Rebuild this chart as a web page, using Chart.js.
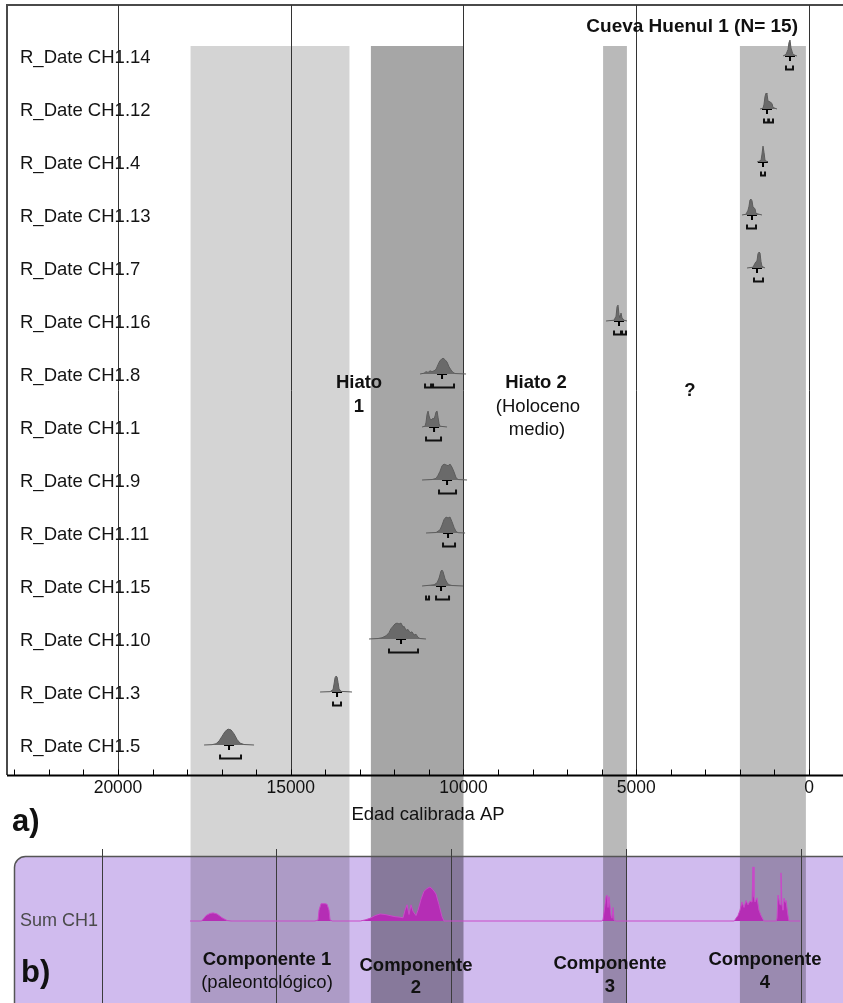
<!DOCTYPE html>
<html>
<head>
<meta charset="utf-8">
<script src="https://cdn.jsdelivr.net/npm/chart.js@4.4.0/dist/chart.umd.min.js"></script>
<style>
  html, body { margin: 0; padding: 0; background: #fff; }
  #wrap { width: 843px; height: 1003px; position: relative; }
</style>
</head>
<body>
<div id="wrap"><canvas id="oxcal"></canvas></div>
<script>
// ---- data (years cal BP, relative probability) ----
var dates = ['R_Date CH1.14', 'R_Date CH1.12', 'R_Date CH1.4', 'R_Date CH1.13', 'R_Date CH1.7',
  'R_Date CH1.16', 'R_Date CH1.8', 'R_Date CH1.1', 'R_Date CH1.9', 'R_Date CH1.11',
  'R_Date CH1.15', 'R_Date CH1.10', 'R_Date CH1.3', 'R_Date CH1.5'];

var distCH1_14 = [[752,0],[666,0.1],[608,0.4],[579,0.85],[550,1],[521,0.5],[492,0.3],[463,0.1],[347,0]];
var distCH1_12 = [[1418,0],[1331,0.05],[1302,0.3],[1273,0.8],[1244,1],[1216,0.95],[1187,0.5],[1129,0.45],[1071,0.35],[1042,0.1],[926,0]];
var distCH1_4  = [[1505,0],[1389,0.1],[1360,0.5],[1331,1],[1302,0.6],[1273,0.1],[1187,0]];
var distCH1_13 = [[1939,0],[1823,0.05],[1766,0.3],[1737,0.55],[1708,0.95],[1679,1],[1650,0.9],[1621,0.5],[1563,0.4],[1534,0.1],[1360,0]];
var distCH1_7  = [[1794,0],[1621,0.05],[1563,0.3],[1534,0.4],[1505,0.45],[1476,0.9],[1447,1],[1418,0.95],[1389,0.4],[1360,0.1],[1273,0]];
var distCH1_16 = [[5875,0],[5643,0.05],[5585,0.3],[5556,0.9],[5528,1],[5499,0.4],[5470,0.2],[5441,0.5],[5412,0.2],[5354,0.05],[5267,0]];
var distCH1_8  = [[11258,0],[11142,0.05],[11084,0.15],[11026,0.1],[10968,0.2],[10910,0.15],[10852,0.2],[10794,0.3],[10736,0.6],[10679,0.85],[10621,0.95],[10592,1],[10534,0.9],[10476,0.75],[10418,0.45],[10360,0.25],[10302,0.1],[10245,0.03],[9926,0]];
var distCH1_1  = [[11200,0],[11113,0.05],[11084,0.3],[11055,0.8],[11026,1],[10997,0.7],[10968,0.5],[10939,0.45],[10910,0.5],[10881,0.55],[10852,0.5],[10823,0.7],[10794,0.95],[10765,1],[10736,0.6],[10707,0.2],[10679,0.05],[10476,0]];
var distCH1_9  = [[11200,0],[10910,0.03],[10794,0.1],[10736,0.3],[10679,0.55],[10621,0.9],[10563,1],[10505,0.95],[10447,0.9],[10389,1],[10331,0.8],[10273,0.5],[10216,0.15],[10158,0.03],[9897,0]];
var distCH1_11 = [[11084,0],[10794,0.03],[10679,0.2],[10621,0.5],[10563,0.85],[10505,1],[10447,0.95],[10389,1],[10331,0.7],[10273,0.35],[10216,0.1],[10158,0.02],[9955,0]];
var distCH1_15 = [[11200,0],[10968,0.05],[10852,0.08],[10765,0.2],[10707,0.5],[10650,0.95],[10621,1],[10592,0.9],[10534,0.45],[10476,0.2],[10418,0.08],[10331,0.03],[10013,0]];
var distCH1_10 = [[12734,0],[12474,0.03],[12358,0.08],[12242,0.2],[12156,0.4],[12098,0.65],[12040,0.8],[11982,0.95],[11924,1],[11866,0.95],[11808,1],[11750,0.75],[11721,0.8],[11663,0.55],[11605,0.6],[11548,0.4],[11490,0.45],[11432,0.25],[11374,0.3],[11316,0.1],[11258,0.03],[11084,0]];
var distCH1_3  = [[14151,0],[13862,0.02],[13776,0.15],[13747,0.5],[13718,0.9],[13689,1],[13660,0.95],[13631,0.6],[13602,0.2],[13545,0.04],[13226,0]];
var distCH1_5  = [[17509,0],[17278,0.02],[17162,0.08],[17075,0.25],[16988,0.55],[16901,0.85],[16815,1],[16728,0.95],[16641,0.7],[16554,0.35],[16467,0.12],[16352,0.03],[16062,0]];

var dists = [distCH1_14, distCH1_12, distCH1_4, distCH1_13, distCH1_7, distCH1_16, distCH1_8,
  distCH1_1, distCH1_9, distCH1_11, distCH1_15, distCH1_10, distCH1_3, distCH1_5];

var medians = [550, 1216, 1331, 1650, 1505, 5499, 10621, 10852, 10476, 10447, 10650, 11808, 13660, 16786];

var ranges = [
  [[666, 463]],
  [[1302, 1180], [1160, 1042]],
  [[1389, 1273]],
  [[1794, 1534]],
  [[1592, 1331]],
  [[5643, 5441], [5412, 5296]],
  [[11113, 10939], [10881, 10274]],
  [[11084, 10650]],
  [[10708, 10216]],
  [[10592, 10245]],
  [[11084, 10997], [10794, 10418]],
  [[12156, 11316]],
  [[13776, 13545]],
  [[17046, 16439]]
];

// Sum CH1 (panel b)
var sumCH1 = [[17473,0],[17150,0],[17100,0.03],[17014,0.1],[16900,0.14],[16814,0.15],[16700,0.13],[16557,0.06],[16414,0.01],[16300,0],
  [13900,0],[13810,0.02],[13782,0.2],[13724,0.32],[13610,0.32],[13553,0.31],[13496,0.2],[13467,0.02],[13400,0],
  [12600,0],[12465,0.02],[12322,0.05],[12179,0.1],[12036,0.13],[11893,0.12],[11750,0.1],[11607,0.08],[11464,0.07],[11378,0.06],
  [11321,0.2],[11264,0.3],[11207,0.12],[11150,0.3],[11093,0.18],[11007,0.1],[10950,0.2],[10864,0.4],[10779,0.55],[10693,0.6],
  [10607,0.63],[10521,0.58],[10435,0.5],[10349,0.3],[10263,0.08],[10206,0],
  [5700,0],[5656,0.02],[5599,0.3],[5570,0.45],[5542,0.48],[5513,0.25],[5485,0.45],[5428,0.1],[5399,0.05],[5370,0.25],[5342,0.02],[5300,0],
  [1900,0],[1851,0.05],[1794,0.1],[1737,0.2],[1680,0.35],[1622,0.25],[1565,0.38],[1508,0.3],[1451,0.37],[1394,0.35],[1365,1],
  [1337,0.45],[1308,0.35],[1251,0.43],[1194,0.2],[1136,0.1],[1079,0.03],[1050,0],
  [700,0],[678,0.05],[649,0.48],[592,0.3],[564,0.89],[535,0.3],[507,0.2],[478,0.42],[449,0.35],[421,0.38],[364,0.1],[335,0],[20,0]];

// shaded periods
var bandFrom = [17900, 12680, 5960, 2000];
var bandTo = [13300, 10000, 5270, 90];
var bandShade = [0.17, 0.35, 0.275, 0.26];

var tickValues = [20000, 15000, 10000, 5000, 0];

// ---- helpers ----
var PEAK = 0.30;        // peak height of each distribution, in row units
var SUM_BASE = -3.321;  // baseline of Sum CH1, in row units
var SUM_PEAK = 1.02;
var nRows = dates.length;

Chart.defaults.font.family = '"Liberation Sans", Arial, sans-serif';

var datasets = [];

dists.forEach(function (d, i) {
  var row = nRows - 1 - i;
  datasets.push({
    data: d.map(function (p) { return {x: p[0], y: row + p[1] * PEAK}; }),
    borderColor: '#5c5c5c',
    borderWidth: 1,
    backgroundColor: '#6a6a6a',
    fill: {value: row},
    pointRadius: 0,
    tension: 0,
    xAxisID: 'x'
  });
});

// ranges (brackets)
var br = [];
ranges.forEach(function (rs, i) {
  var row = nRows - 1 - i;
  rs.forEach(function (r) {
    br.push({x: r[0], y: row - 0.18}, {x: r[0], y: row - 0.255},
            {x: r[1], y: row - 0.255}, {x: r[1], y: row - 0.18}, {x: r[1], y: null});
  });
});
datasets.push({
  data: br, borderColor: '#111', borderWidth: 2, pointRadius: 0, fill: false,
  spanGaps: false, tension: 0, xAxisID: 'x'
});

// medians
datasets.push({
  data: medians.map(function (m, i) { return {x: m, y: nRows - 1 - i}; }),
  showLine: false, pointStyle: 'cross', pointRadius: 5, borderColor: '#000',
  borderWidth: 2, xAxisID: 'x'
});

// sum
datasets.push({
  data: sumCH1.map(function (p) { return {x: p[0], y: SUM_BASE + p[1] * SUM_PEAK}; }),
  borderColor: '#c94ac9', borderWidth: 1, backgroundColor: '#b52db5',
  fill: {value: SUM_BASE}, pointRadius: 0, tension: 0, xAxisID: 'x2'
});

function roundTop(ctx, x, y, w, h, r) {
  ctx.beginPath();
  ctx.moveTo(x, y + h);
  ctx.lineTo(x, y + r);
  ctx.arcTo(x, y, x + r, y, r);
  ctx.lineTo(x + w, y);
  ctx.lineTo(x + w, y + h);
  ctx.closePath();
}

function txt(ctx, s, x, y, font, align, color) {
  ctx.font = font;
  ctx.textAlign = align || 'center';
  ctx.textBaseline = 'middle';
  ctx.fillStyle = color || '#111';
  ctx.fillText(s, x, y);
}

var F = '"Liberation Sans", Arial, sans-serif';

var decor = {
  id: 'decor',
  beforeDatasetsDraw: function (chart) {
    var ctx = chart.ctx, x = chart.scales.x, x2 = chart.scales.x2;
    var axisY = 775.5;
    ctx.save();
    // panel b
    ctx.fillStyle = '#d0bbee';
    roundTop(ctx, 14.5, 856.5, 840, 160, 11);
    ctx.fill();

    // shaded periods
    bandFrom.forEach(function (b, i) {
      var l = x.getPixelForValue(b), r = x.getPixelForValue(bandTo[i]);
      ctx.fillStyle = 'rgba(0,0,0,' + bandShade[i] + ')';
      ctx.fillRect(l, 46, r - l, 1003 - 46);
    });

    ctx.strokeStyle = '#555';
    ctx.lineWidth = 1.5;
    roundTop(ctx, 14.5, 856.5, 840, 160, 11);
    ctx.stroke();

    // panel a frame
    ctx.strokeStyle = '#4a4a4a';
    ctx.lineWidth = 2;
    ctx.beginPath();
    ctx.moveTo(7, 775); ctx.lineTo(7, 5); ctx.lineTo(843, 5);
    ctx.stroke();

    // grid lines panel a
    ctx.strokeStyle = '#333';
    ctx.lineWidth = 1;
    tickValues.forEach(function (v) {
      var px = Math.round(x.getPixelForValue(v)) + 0.5;
      ctx.beginPath(); ctx.moveTo(px, 5); ctx.lineTo(px, axisY); ctx.stroke();
    });
    // grid lines panel b
    ctx.strokeStyle = '#3c3c3c';
    tickValues.forEach(function (v) {
      var px = Math.round(x2.getPixelForValue(v)) + 0.5;
      ctx.beginPath(); ctx.moveTo(px, 849); ctx.lineTo(px, 1003); ctx.stroke();
    });

    // axis a
    ctx.strokeStyle = '#000';
    ctx.lineWidth = 2;
    ctx.beginPath(); ctx.moveTo(7, axisY); ctx.lineTo(843, axisY); ctx.stroke();
    ctx.lineWidth = 1;
    for (var v = 0; v <= 23000; v += 1000) {
      var px = Math.round(x.getPixelForValue(v)) + 0.5;
      ctx.beginPath(); ctx.moveTo(px, axisY - 6); ctx.lineTo(px, axisY); ctx.stroke();
    }
    tickValues.forEach(function (v) {
      txt(ctx, String(v), x.getPixelForValue(v), 788, '17.5px ' + F, 'center', '#111');
    });
    ctx.restore();
  },
  afterDatasetsDraw: function (chart) {
    var ctx = chart.ctx, y = chart.scales.y;
    ctx.save();
    dates.forEach(function (d, i) {
      txt(ctx, d, 20, y.getPixelForValue(nRows - 1 - i) + 2, '18.5px ' + F, 'left', '#141414');
    });
    txt(ctx, 'Cueva Huenul 1 (N= 15)', 798, 27, 'bold 19px ' + F, 'right');
    txt(ctx, 'Hiato', 359, 383, 'bold 18.5px ' + F);
    txt(ctx, '1', 359, 407, 'bold 18.5px ' + F);
    txt(ctx, 'Hiato 2', 536, 383, 'bold 18.5px ' + F);
    txt(ctx, '(Holoceno', 538, 407, '18.5px ' + F);
    txt(ctx, 'medio)', 537, 430, '18.5px ' + F);
    txt(ctx, '?', 690, 391, 'bold 18.5px ' + F);
    txt(ctx, 'Edad calibrada AP', 428, 815, '18.5px ' + F);
    txt(ctx, 'a)', 12, 822, 'bold 31px ' + F, 'left');
    txt(ctx, 'b)', 21, 973, 'bold 31px ' + F, 'left');
    txt(ctx, 'Sum CH1', 20, 921, '18px ' + F, 'left', '#4a4a4a');
    txt(ctx, 'Componente 1', 267, 960, 'bold 18.5px ' + F);
    txt(ctx, '(paleontológico)', 267, 983, '18.5px ' + F);
    txt(ctx, 'Componente', 416, 966, 'bold 18.5px ' + F);
    txt(ctx, '2', 416, 988, 'bold 18.5px ' + F);
    txt(ctx, 'Componente', 610, 964, 'bold 18.5px ' + F);
    txt(ctx, '3', 610, 987, 'bold 18.5px ' + F);
    txt(ctx, 'Componente', 765, 960, 'bold 18.5px ' + F);
    txt(ctx, '4', 765, 983, 'bold 18.5px ' + F);
    ctx.restore();
  }
};

var ctx = document.getElementById('oxcal').getContext('2d');
var oxcalChart = new Chart(ctx, {
  type: 'line',
  data: { datasets: datasets },
  options: {
    responsive: true,
    maintainAspectRatio: false,
    animation: false,
    layout: { padding: 0, autoPadding: false },
    plugins: { legend: { display: false }, tooltip: { enabled: false } },
    scales: {
      x: { type: 'linear', reverse: true, min: -984, max: 23415, display: false },
      x2: { type: 'linear', reverse: true, min: -1210, max: 22910, display: false },
      y: { type: 'linear', min: -4.868, max: 14.057, display: false }
    }
  },
  plugins: [decor]
});
</script>
</body>
</html>
